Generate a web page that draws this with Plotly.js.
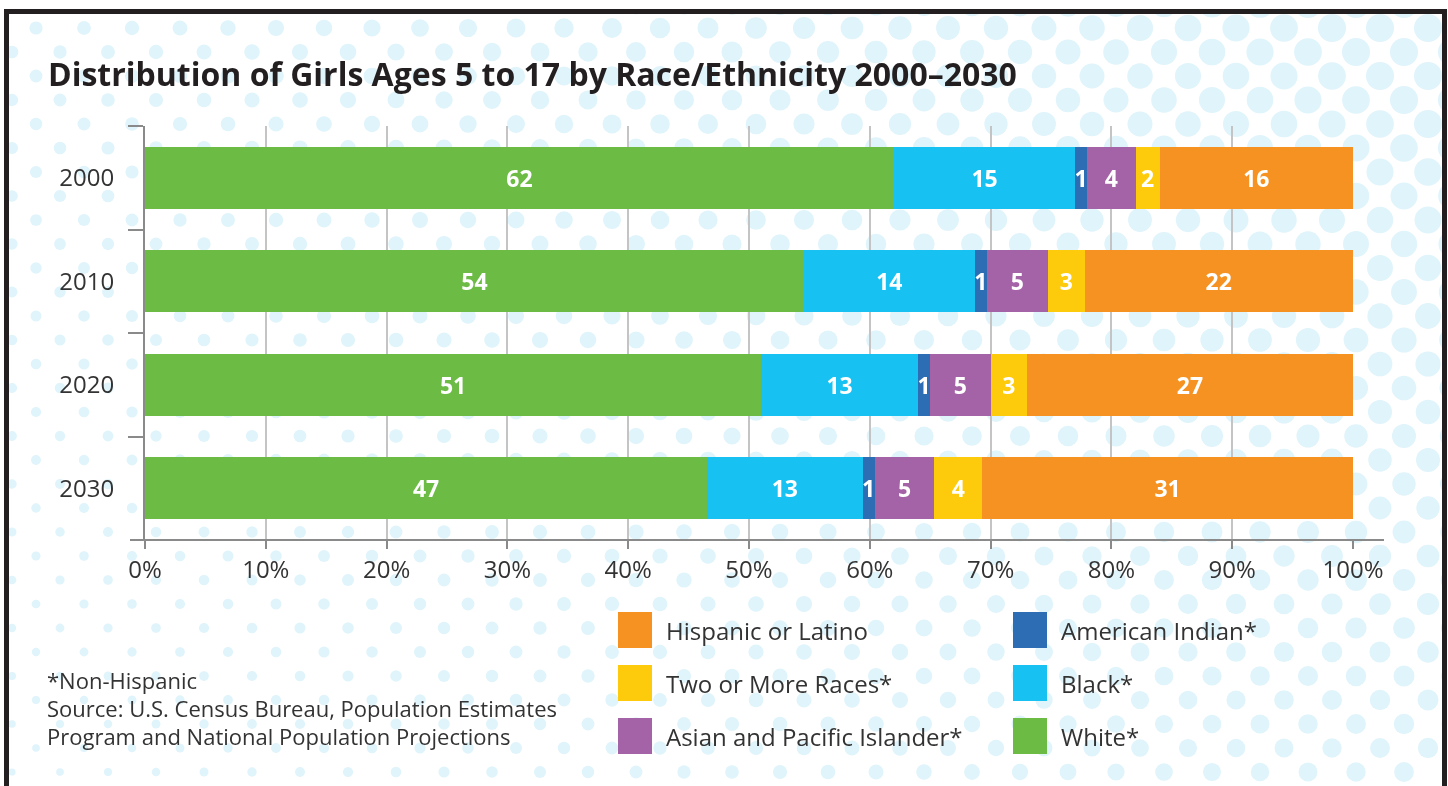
<!DOCTYPE html>
<html>
<head>
<meta charset="utf-8">
<script src="https://cdn.plot.ly/plotly-3.0.1.min.js"></script>
<style>
  html, body { margin: 0; padding: 0; background: #fff; }
  #wrap { position: relative; width: 1448px; height: 786px; overflow: hidden; }
  #dots { position: absolute; left: 0; top: 0; }
  #frame { position: absolute; left: 4px; top: 9px; width: 1433px; height: 820px;
           border: 5px solid #231f20; border-bottom: none; }
  #chart { position: absolute; left: 0; top: 0; width: 1448px; height: 786px; }
</style>
</head>
<body>
<div id="wrap">
  <canvas id="dots" width="1448" height="786"></canvas>
  <div id="frame"></div>
  <div id="chart"></div>
</div>
<script>
// data
const years = ["2000", "2010", "2020", "2030"];
const white = [62, 54, 51, 47];
const black = [15, 14, 13, 13];
const amIndian = [1, 1, 1, 1];
const asianPI = [4, 5, 5, 5];
const twoOrMore = [2, 3, 3, 4];
const hispanic = [16, 22, 27, 31];

const seriesNames = ["White*", "Black*", "American Indian*", "Asian and Pacific Islander*",
                     "Two or More Races*", "Hispanic or Latino"];
const seriesValues = [white, black, amIndian, asianPI, twoOrMore, hispanic];
const seriesColors = ["#6cbb45", "#17c2f2", "#2c6db3", "#a563a7", "#fdca0c", "#f59221"];

const xTickVals = [0, 10, 20, 30, 40, 50, 60, 70, 80, 90, 100];
const xTickText = xTickVals.map(v => v + "%");

const chartTitle = "Distribution of Girls Ages 5 to 17 by Race/Ethnicity 2000\u20132030";
const footLines = ["*Non-Hispanic", "Source: U.S. Census Bureau, Population Estimates",
                   "Program and National Population Projections"];

// pixel helpers for the plot area
const W = 1448, H = 786, L = 145, R = 1353, T = 126, B = 540;
const px = v => (v - L) / (R - L);
const py = v => (B - v) / (B - T);

function drawDots() {
  const ctx = document.getElementById("dots").getContext("2d");
  ctx.save();
  ctx.beginPath();
  ctx.rect(9, 14, 1433, 800);
  ctx.clip();
  ctx.fillStyle = "#e0f4fb";
  for (let k = 0; 4 + 24 * k < H + 24; k++) {
    const y = 4 + 24 * k;
    for (let x = 12 + (k % 2) * 24 - 48; x < W + 48; x += 48) {
      const u = x / W, v = y / H;
      const d = Math.max(3, Math.min(28, 13 + 17 * u - 6 * v - 4 * u * v));
      ctx.beginPath();
      ctx.arc(x, y, d / 2, 0, Math.PI * 2);
      ctx.fill();
    }
  }
  ctx.restore();
}

function buildTraces() {
  return seriesNames.map((name, i) => ({
    type: "bar",
    orientation: "h",
    name: name,
    y: years,
    x: seriesValues[i],
    text: seriesValues[i].map(String),
    texttemplate: "%{text}",
    textposition: "inside",
    insidetextanchor: "middle",
    constraintext: "none",
    textfont: { family: "Open Sans, sans-serif", size: 23, weight: 700, color: "#ffffff" },
    marker: { color: seriesColors[i], line: { width: 0 } },
    hoverinfo: "skip"
  }));
}

function buildLegend() {
  const shapes = [], annotations = [];
  const order = [5, 4, 3, 2, 1, 0];
  const rowY = [630, 683, 736];
  const colX = [618, 1013];
  order.forEach((idx, n) => {
    const col = Math.floor(n / 3), row = n % 3;
    const x0 = colX[col], yc = rowY[row];
    shapes.push({
      type: "rect", xref: "paper", yref: "paper",
      x0: px(x0), x1: px(x0 + 34), y0: py(yc + 18), y1: py(yc - 18),
      fillcolor: seriesColors[idx], line: { width: 0 }
    });
    annotations.push({
      xref: "paper", yref: "paper", x: px(x0 + 46), y: py(yc),
      xanchor: "left", yanchor: "middle", showarrow: false,
      text: seriesNames[idx], font: { size: 24, color: "#333" }
    });
  });
  return { shapes, annotations };
}

function render() {
  drawDots();
  const legend = buildLegend();

  const footAnn = footLines.map((t, i) => ({
    xref: "paper", yref: "paper", x: px(45), y: py(680 + i * 28),
    xanchor: "left", yanchor: "middle", showarrow: false,
    text: t, font: { size: 22, color: "#333" }
  }));

  const axisLine = {
    type: "line", xref: "paper", yref: "paper",
    x0: px(130), x1: px(1384), y0: 0, y1: 0,
    line: { color: "#8a8a8a", width: 2 }
  };

  Plotly.newPlot("chart", buildTraces(), {
    width: W, height: H,
    margin: { l: L, r: W - R, t: T, b: H - B },
    paper_bgcolor: "rgba(0,0,0,0)",
    plot_bgcolor: "rgba(0,0,0,0)",
    barmode: "stack",
    barnorm: "percent",
    bargap: 0.4,
    showlegend: false,
    font: { family: "Open Sans, sans-serif", color: "#333" },
    title: {
      text: chartTitle, xref: "container", yref: "container",
      x: 48 / W, xanchor: "left", y: 1 - 75 / H, yanchor: "middle",
      font: { size: 32, weight: 700, color: "#231f20" }
    },
    xaxis: {
      range: [0, 100], tickvals: xTickVals, ticktext: xTickText,
      showgrid: true, gridcolor: "#c4c4c4", gridwidth: 2,
      zeroline: false, showline: false,
      ticks: "outside", ticklen: 8, tickwidth: 2, tickcolor: "#8a8a8a",
      tickfont: { size: 24, color: "#333" }, fixedrange: true
    },
    yaxis: {
      type: "category", range: [3.5, -0.5],
      showline: true, linecolor: "#8a8a8a", linewidth: 2,
      ticks: "outside", tickson: "boundaries", ticklen: 15, tickwidth: 2, tickcolor: "#8a8a8a",
      showgrid: false, tickfont: { size: 24, color: "#333" }, ticklabelstandoff: 24,
      fixedrange: true
    },
    shapes: [axisLine].concat(legend.shapes),
    annotations: legend.annotations.concat(footAnn)
  }, { displayModeBar: false, staticPlot: true });
}

document.addEventListener("DOMContentLoaded", render);
</script>
</body>
</html>
